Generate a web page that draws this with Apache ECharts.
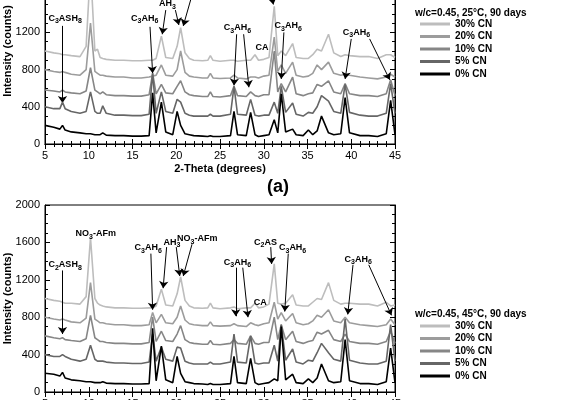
<!DOCTYPE html>
<html><head><meta charset="utf-8">
<script src="https://cdn.jsdelivr.net/npm/echarts@6/dist/echarts.min.js"></script>
<style>html,body{margin:0;padding:0;background:#fff}#c{width:564px;height:400px}</style>
</head><body><div id="c"></div>
<script>
// shared 2-theta positions
const theta = [5,6,6.7,7.0,7.3,8,9,9.7,10.2,10.7,11.0,11.3,11.6,12,13,14,15,16,16.9,17.3,17.7,18.3,18.8,19.6,20.1,20.5,21,21.5,22,23,23.6,23.9,24.2,25,26.2,26.6,27,28,28.5,29,29.4,30,30.6,31.2,31.6,32.0,32.5,33.3,33.7,34.5,35.1,35.6,36.1,36.6,37.4,38,38.8,39.3,39.8,41,42,43,44,44.5,45];
const names = ['30% CN','20% CN','10% CN','5% CN','0% CN'];
const colors = ['#bdbdbd','#9c9c9c','#868686','#666666','#000000'];

// (a) 25C
const a30 = [1000,980,970,960,960,950,940,1050,1900,1000,1020,930,920,910,900,900,895,895,900,900,920,1160,930,920,1050,1250,980,920,900,895,900,950,900,890,900,900,890,900,900,960,900,910,930,1480,950,1000,950,1080,930,920,920,960,1020,1000,1180,980,940,960,950,940,940,920,960,960,930];
const a20 = [800,780,770,780,770,750,740,800,1300,780,760,740,740,730,720,720,710,710,720,730,740,850,740,730,800,1000,770,730,720,710,710,760,710,705,710,740,710,700,720,720,710,730,740,1150,780,850,760,880,740,720,730,760,850,800,880,760,740,750,740,720,710,700,720,750,720];
const a10 = [580,570,560,580,560,550,540,570,820,580,560,540,560,530,520,520,515,515,530,760,540,640,550,540,620,680,560,530,520,510,510,560,510,505,520,620,520,510,560,520,510,530,530,1000,560,650,560,720,540,520,540,550,640,620,680,560,540,650,540,520,520,510,540,690,520];
const a5 = [400,380,380,450,380,350,330,350,560,350,330,330,410,330,310,310,305,305,320,760,330,560,350,330,480,450,330,310,300,300,300,320,300,300,320,620,320,310,480,310,300,310,310,450,330,620,340,440,320,300,340,330,400,520,460,350,330,640,340,310,300,300,330,650,330];
const a0 = [200,180,160,200,150,130,120,110,110,100,100,100,120,95,90,90,85,85,90,550,120,450,130,100,350,200,110,100,90,85,80,90,80,80,90,350,100,90,340,100,80,90,100,260,120,540,130,160,100,90,150,100,140,300,120,100,110,500,120,90,90,80,110,470,100];

// (b) 45C
const b30 = [1000,980,970,960,950,950,940,1020,1650,1000,950,930,920,910,900,900,895,895,900,900,920,1100,930,920,1050,1230,980,920,900,895,900,950,900,890,900,910,890,900,900,950,900,910,940,1370,950,940,950,1040,930,920,920,960,1000,990,1170,980,940,950,950,940,940,920,960,920,930];
const b20 = [800,780,770,780,770,750,740,790,1170,780,760,740,740,730,720,720,710,710,720,850,740,830,740,730,800,920,770,730,720,710,710,750,710,705,710,730,710,700,740,720,710,730,740,960,780,850,760,840,740,720,730,760,820,800,880,760,740,800,740,720,710,700,720,780,720];
const b10 = [600,580,570,580,560,550,540,570,820,580,560,540,540,530,520,520,515,515,530,800,540,650,550,540,620,710,560,530,520,510,510,550,510,505,520,560,520,510,600,520,510,530,530,800,560,720,560,650,540,520,540,550,640,620,660,560,540,620,540,520,520,510,540,650,520];
const b5 = [400,380,380,400,380,350,330,350,500,350,330,330,330,320,310,310,305,305,320,620,330,480,350,330,480,470,330,310,300,300,300,320,300,300,320,620,320,310,600,310,300,310,310,500,330,720,340,460,320,300,340,330,420,520,420,350,330,780,340,310,300,300,330,720,330];
const b0 = [200,190,170,210,150,130,120,110,110,100,100,100,110,95,90,90,85,85,90,680,120,490,130,100,380,200,110,100,90,85,80,90,80,80,90,380,100,90,360,100,80,90,100,140,120,700,130,190,100,90,140,100,150,300,120,100,110,560,120,90,90,80,110,470,100];

// annotation labels [text, x, y] and arrows [x1,y1,x2,y2]
const aLabels = [['C{s|3}ASH{s|8}',7.3,1350],['C{s|3}AH{s|6}',16.4,1350],['AH{s|3}',19.0,1510],['NO{s|3}-AFm',22.6,1660],['C{s|3}AH{s|6}',27,1250],['CA',29.8,1040],['C{s|3}AH{s|6}',32.8,1270],['C{s|3}AH{s|6}',40.6,1200],['NO{s|3}-AFm',10.8,2080],['C{s|2}AS',30.4,1660]];
const aArrows = [[7.0,1270,7.0,440],[17.0,1260,17.3,760],[18.8,1440,18.4,1180],[19.9,1440,20.3,1280],[21.8,1600,20.8,1270],[26.9,1180,26.6,630],[27.7,1180,28.3,610],[30.9,1600,31.1,1500],[32.3,1200,32.0,700],[40,1130,39.3,700],[42.1,1130,44.4,690]];
const bLabels = [['NO{s|3}-AFm',10.8,1690],['C{s|2}ASH{s|8}',7.3,1360],['C{s|3}AH{s|6}',16.8,1540],['AH{s|3}',19.5,1600],['NO{s|3}-AFm',22.4,1640],['C{s|3}AH{s|6}',27,1390],['C{s|2}AS',30.2,1600],['CA',29.6,960],['C{s|3}AH{s|6}',33.3,1540],['C{s|3}AH{s|6}',40.8,1420]];
const bArrows = [[7.0,1300,7.0,620],[17.1,1480,17.3,880],[18.9,1550,18.5,1110],[20.0,1550,20.4,1240],[21.8,1580,20.8,1240],[26.8,1330,26.8,810],[27.6,1330,28.2,800],[30.8,1550,30.9,1370],[32.8,1480,32.4,860],[40.2,1360,39.6,830],[42.0,1360,44.6,820]];

const rich = {s:{fontSize:7,fontWeight:'bold',fontFamily:'Liberation Sans',padding:[6,0,0,0]}};
const lblStyle = {show:true,position:'inside',color:'#000',fontSize:9,fontWeight:'bold',fontFamily:'Liberation Sans',formatter:p=>p.name,rich};

function mkSeries(panel, sets, labels, arrows){
  return sets.map((vals,i)=>{
    const s = {name:names[i],type:'line',xAxisIndex:panel*2,yAxisIndex:panel*2,
      data:theta.map((t,j)=>[t,vals[j]]),showSymbol:false,symbol:'none',clip:false,
      lineStyle:{color:colors[i],width:1.6},itemStyle:{color:colors[i]},z:2+i,silent:true};
    if(i===4){
      s.markPoint={symbol:'circle',symbolSize:0,silent:true,label:lblStyle,
        data:labels.map(l=>({name:l[0],coord:[l[1],l[2]]}))};
      s.markLine={symbol:['none','arrow'],symbolSize:7,silent:true,animation:false,
        lineStyle:{color:'#000',width:1,type:'solid'},label:{show:false},
        data:arrows.map(a=>[{coord:[a[0],a[1]]},{coord:[a[2],a[3]]}])};
    }
    return s;
  });
}

const font = {fontFamily:'Liberation Sans',color:'#000'};
function xAx(grid, show, pos){
  return {type:'value',gridIndex:grid,position:pos,min:5,max:45,interval:5,
    axisLine:{lineStyle:{color:'#000'}},axisTick:{inside:true,length:5,lineStyle:{color:'#000'}},
    minorTick:{show:true,splitNumber:5,length:3,lineStyle:{color:'#000'}},splitLine:{show:false},
    axisLabel:{show:show,fontSize:11,margin:6,...font},
    name:show?'2-Theta (degrees)':'',nameLocation:'middle',nameGap:19,nameMoveOverlap:false,
    nameTextStyle:{fontSize:11,fontWeight:'bold',...font}};
}
function yAx(grid, show, pos){
  return {type:'value',gridIndex:grid,position:pos,min:0,max:2000,interval:400,
    axisLine:{show:true,lineStyle:{color:'#000'}},axisTick:{show:true,inside:true,length:5,lineStyle:{color:'#000'}},
    minorTick:{show:true,splitNumber:4,length:3,lineStyle:{color:'#000'}},splitLine:{show:false},
    axisLabel:{show:show,fontSize:11,margin:5,formatter:v=>String(v),...font},
    name:show?'Intensity (counts)':'',nameLocation:'middle',nameGap:32,nameMoveOverlap:false,
    nameTextStyle:{fontSize:11,fontWeight:'bold',...font}};
}
const legendBase = {orient:'vertical',left:415,itemGap:2.5,itemWidth:30,itemHeight:3,icon:'rect',
  data:names,textStyle:{fontSize:10,fontWeight:'bold',...font},selectedMode:false};

const chart = echarts.init(document.getElementById('c'));
chart.setOption({
  animation:false,
  title:[
    {text:'w/c=0.45, 25°C, 90 days',left:410,top:3,textStyle:{fontSize:10,fontWeight:'bold',...font}},
    {text:'w/c=0.45, 45°C, 90 days',left:410,top:304,textStyle:{fontSize:10,fontWeight:'bold',...font}},
    {text:'(a)',left:262,top:173,textStyle:{fontSize:18,fontWeight:'bold',...font}}
  ],
  legend:[{...legendBase,top:14},{...legendBase,top:316}],
  grid:[{left:45,width:350,top:-42,height:186,show:true,borderColor:'#000',borderWidth:1,outerBoundsMode:'none',containLabel:false},
        {left:45,width:350,top:205,height:187,show:true,borderColor:'#000',borderWidth:1,outerBoundsMode:'none',containLabel:false}],
  xAxis:[xAx(0,true,'bottom'),xAx(0,false,'top'),xAx(1,true,'bottom'),xAx(1,false,'top')],
  yAxis:[yAx(0,true,'left'),yAx(0,false,'right'),yAx(1,true,'left'),yAx(1,false,'right')],
  series:[...mkSeries(0,[a30,a20,a10,a5,a0],aLabels,aArrows),...mkSeries(1,[b30,b20,b10,b5,b0],bLabels,bArrows)]
});
</script></body></html>
